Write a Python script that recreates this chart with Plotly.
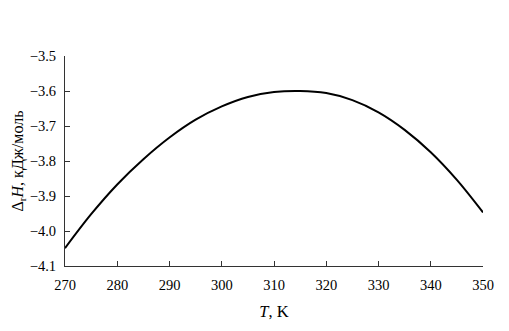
import plotly.graph_objects as go

T = [270, 275, 280, 285, 290, 295, 300, 305, 310, 315, 320, 325, 330, 335, 340, 345, 350]
dH = [-4.049, -3.952, -3.867, -3.795, -3.733, -3.682, -3.644, -3.617, -3.603, -3.600,
      -3.606, -3.626, -3.661, -3.711, -3.775, -3.854, -3.947]

x_ticks = [270, 280, 290, 300, 310, 320, 330, 340, 350]
y_ticks = [-4.1, -4.0, -3.9, -3.8, -3.7, -3.6, -3.5]

fig = go.Figure()
fig.add_trace(go.Scatter(x=T, y=dH, mode="lines", line_shape="spline",
                         line=dict(color="black", width=2, smoothing=1), showlegend=False))

font_family = "Liberation Serif"
fig.update_layout(
    width=509, height=331,
    margin=dict(l=65, r=26, t=56, b=65),
    paper_bgcolor="white", plot_bgcolor="white",
    font=dict(family=font_family, size=14, color="black"),
    xaxis=dict(
        range=[270, 350], tickvals=x_ticks, ticktext=[str(v) for v in x_ticks],
        ticks="inside", ticklen=5, tickcolor="#333", showline=True, linecolor="#333",
        linewidth=1, showgrid=False, zeroline=False, ticklabelstandoff=6,
        title=dict(text="<i>T</i>, K", font=dict(size=16.5, family=font_family, color="black"), standoff=13),
        tickfont=dict(size=14.5, family=font_family, color="black"),
    ),
    yaxis=dict(
        range=[-4.1, -3.5], tickvals=y_ticks, ticktext=["\u2212%.1f" % abs(v) for v in y_ticks],
        ticks="inside", ticklen=5, tickcolor="#333", showline=True, linecolor="#333",
        linewidth=1, showgrid=False, zeroline=False, ticklabelstandoff=5,
        title=dict(text="\u0394<sub>r</sub><i>H</i>, кДж/моль", font=dict(size=16, family=font_family, color="black"), standoff=2),
        tickfont=dict(size=14.5, family=font_family, color="black"),
    ),
)

fig.write_html("out.html")
